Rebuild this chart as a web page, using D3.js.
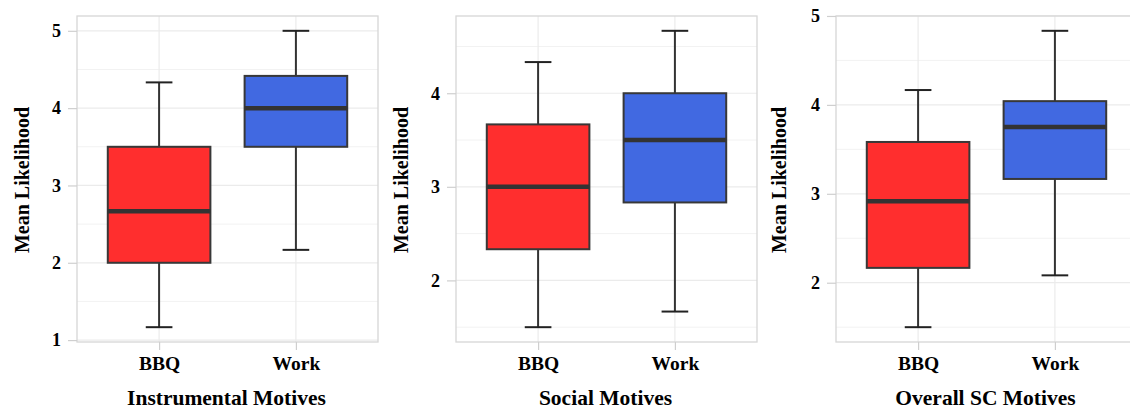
<!DOCTYPE html>
<html><head><meta charset="utf-8">
<script src="https://cdn.jsdelivr.net/npm/d3@7"></script>
<style>
html,body{margin:0;padding:0;background:#fff;}
svg{display:block;}
text{font-family:"Liberation Serif","Times New Roman",serif;font-weight:bold;fill:#000;}
</style></head>
<body>
<svg id="chart" width="1130" height="410"></svg>
<script>
// ---- data ----
const categories = ["BBQ", "Work"];
const panelTitles = ["Instrumental Motives", "Social Motives", "Overall SC Motives"];
const yAxisTitle = "Mean Likelihood";
// stats: [lower whisker, Q1, median, Q3, upper whisker]
const instrumentalBBQ  = [1.167, 2.0, 2.667, 3.5, 4.333];
const instrumentalWork = [2.167, 3.5, 4.0, 4.417, 5.0];
const socialBBQ        = [1.5, 2.333, 3.0, 3.667, 4.333];
const socialWork       = [1.667, 2.833, 3.5, 4.0, 4.667];
const overallBBQ       = [1.5, 2.167, 2.917, 3.583, 4.167];
const overallWork      = [2.083, 3.167, 3.75, 4.042, 4.833];
const instrumentalTicks = [1, 2, 3, 4, 5];
const socialTicks       = [2, 3, 4];
const overallTicks      = [2, 3, 4, 5];
const boxColors = ["#FF2E2E", "#4169E1"];

// ---- layout ----
const panels = [
  {title: panelTitles[0], stats: [instrumentalBBQ, instrumentalWork], ticks: instrumentalTicks, x0: 77,  x1: 378, ytx: 22},
  {title: panelTitles[1], stats: [socialBBQ, socialWork],             ticks: socialTicks,       x0: 456, x1: 757, ytx: 401},
  {title: panelTitles[2], stats: [overallBBQ, overallWork],           ticks: overallTicks,      x0: 836, x1: 1137, ytx: 779}
];
const plotTop = 16, plotBottom = 342;
const svg = d3.select("#chart");

panels.forEach(p => {
  const all = p.stats.flat();
  const lo = d3.min(all), hi = d3.max(all), ext = (hi - lo) * 0.05;
  const y = d3.scaleLinear().domain([lo - ext, hi + ext]).range([plotBottom, plotTop]);
  // discrete positions with ggplot expansion 0.6
  const xc = d3.scaleLinear().domain([0.4, 2.6]).range([p.x0, p.x1]);
  const unit = xc(2) - xc(1);
  const g = svg.append("g");

  // minor grid
  const d = y.domain();
  const minor = [];
  for (let v = Math.ceil(d[0] * 2) / 2; v <= d[1]; v += 0.5) {
    if (!p.ticks.includes(v) && Math.abs(v - Math.round(v)) > 0.01) minor.push(v);
  }
  g.selectAll(".minor").data(minor).join("line")
    .attr("x1", p.x0).attr("x2", p.x1)
    .attr("y1", v => y(v)).attr("y2", v => y(v))
    .attr("stroke", "#F2F2F2").attr("stroke-width", 1);
  // major y grid
  g.selectAll(".majory").data(p.ticks).join("line")
    .attr("x1", p.x0).attr("x2", p.x1)
    .attr("y1", v => y(v)).attr("y2", v => y(v))
    .attr("stroke", "#EBEBEB").attr("stroke-width", 1.2);
  // major x grid
  g.selectAll(".majorx").data([1, 2]).join("line")
    .attr("x1", v => xc(v)).attr("x2", v => xc(v))
    .attr("y1", plotTop).attr("y2", plotBottom)
    .attr("stroke", "#EBEBEB").attr("stroke-width", 1.2);
  // panel border
  g.append("rect").attr("x", p.x0).attr("y", plotTop)
    .attr("width", p.x1 - p.x0).attr("height", plotBottom - plotTop)
    .attr("fill", "none").attr("stroke", "#D6D6D6").attr("stroke-width", 1.3);

  // y axis
  const yAxis = d3.axisLeft(y).tickValues(p.ticks).tickSize(9).tickPadding(7).tickFormat(d3.format("d"));
  const ya = g.append("g").attr("transform", `translate(${p.x0},0)`).call(yAxis);
  ya.select(".domain").remove();
  ya.selectAll(".tick line").attr("stroke", "#CFCFCF").attr("stroke-width", 1.2);
  ya.selectAll(".tick text").attr("font-size", 18).attr("fill", "#000")
    .attr("font-family", "Liberation Serif").attr("font-weight", "bold");

  // x axis
  const xAxis = d3.axisBottom(xc).tickValues([1, 2]).tickSize(8).tickPadding(6).tickFormat(v => categories[v - 1]);
  const xa = g.append("g").attr("transform", `translate(0,${plotBottom})`).call(xAxis);
  xa.select(".domain").remove();
  xa.selectAll(".tick line").attr("stroke", "#CFCFCF").attr("stroke-width", 1.2);
  xa.selectAll(".tick text").attr("font-size", 19.5).attr("fill", "#000")
    .attr("font-family", "Liberation Serif").attr("font-weight", "bold");

  // boxes
  const bw = unit * 0.75, cw = bw * 0.25;
  p.stats.forEach((s, i) => {
    const cx = xc(i + 1);
    const bg = g.append("g");
    bg.append("line").attr("x1", cx).attr("x2", cx).attr("y1", y(s[0])).attr("y2", y(s[1]))
      .attr("stroke", "#333").attr("stroke-width", 2);
    bg.append("line").attr("x1", cx).attr("x2", cx).attr("y1", y(s[3])).attr("y2", y(s[4]))
      .attr("stroke", "#333").attr("stroke-width", 2);
    [s[0], s[4]].forEach(v => {
      bg.append("line").attr("x1", cx - cw / 2 - 0.5).attr("x2", cx + cw / 2 + 0.5)
        .attr("y1", y(v)).attr("y2", y(v)).attr("stroke", "#222").attr("stroke-width", 2);
    });
    bg.append("rect").attr("x", cx - bw / 2).attr("y", y(s[3]))
      .attr("width", bw).attr("height", y(s[1]) - y(s[3]))
      .attr("fill", boxColors[i]).attr("stroke", "#383838").attr("stroke-width", 2);
    bg.append("line").attr("x1", cx - bw / 2).attr("x2", cx + bw / 2)
      .attr("y1", y(s[2])).attr("y2", y(s[2])).attr("stroke", "#333").attr("stroke-width", 4.5);
  });

  // titles
  g.append("text").attr("x", (p.x0 + p.x1) / 2 - 1).attr("y", 405)
    .attr("text-anchor", "middle").attr("font-size", 21.5).text(p.title);
  g.append("text").attr("transform", `translate(${p.ytx + 7},180) rotate(-90)`)
    .attr("text-anchor", "middle").attr("font-size", 20).text(yAxisTitle);
});
</script>
</body></html>
